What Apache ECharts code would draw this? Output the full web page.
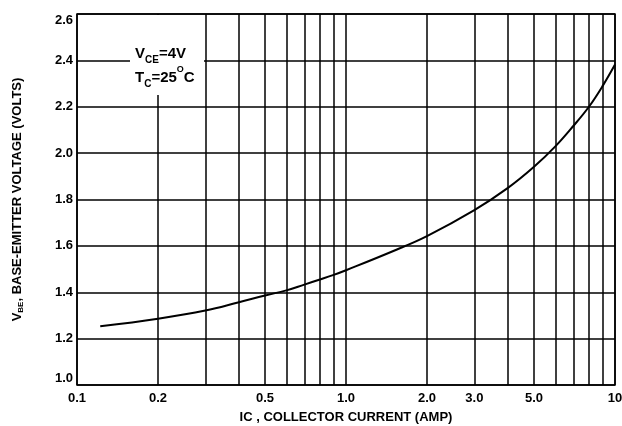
<!DOCTYPE html>
<html>
<head>
<meta charset="utf-8">
<script src="https://cdn.jsdelivr.net/npm/echarts@6/dist/echarts.min.js"></script>
<style>html,body{margin:0;padding:0;background:#fff;}#c{width:622px;height:426px;}</style>
</head>
<body>
<div id="c"></div>
<script>
// Collector current (A)
var currentA = [0.122, 0.2, 0.3, 0.4, 0.5, 0.6, 0.7, 0.8, 0.9, 1.0, 1.5, 2.0, 3.0, 4.0, 5.0, 6.0, 7.0, 8.0, 9.0, 10.0];
// Base-emitter voltage (V)
var vbe = [1.253, 1.286, 1.321, 1.357, 1.386, 1.408, 1.433, 1.455, 1.475, 1.495, 1.578, 1.642, 1.754, 1.850, 1.941, 2.029, 2.117, 2.200, 2.290, 2.382];
// Vertical grid positions
var xGridValues = [0.1, 0.2, 0.3, 0.4, 0.5, 0.6, 0.7, 0.8, 0.9, 1, 2, 3, 4, 5, 6, 7, 8, 9, 10];
// X tick labels
var xLabelValues = [0.1, 0.2, 0.5, 1, 2, 3, 5, 10];
var xLabelTexts = ['0.1', '0.2', '0.5', '1.0', '2.0', '3.0', '5.0', '10'];

var FONT = '"Liberation Sans", Arial, sans-serif';
var chart = echarts.init(document.getElementById('c'), null, {renderer: 'canvas'});

var curve = currentA.map(function (x, i) { return [x, vbe[i]]; });

chart.setOption({
  animation: false,
  backgroundColor: '#fff',
  grid: {left: 77, right: 7, top: 14, bottom: 41, show: true, borderColor: '#000', borderWidth: 1.5,
         backgroundColor: 'transparent', containLabel: false, outerBoundsMode: 'none'},
  xAxis: {
    type: 'log', logBase: 10, min: 0.1, max: 10,
    name: 'IC , COLLECTOR CURRENT (AMP)',
    nameLocation: 'middle', nameGap: 26,
    nameTextStyle: {color: '#000', fontWeight: 'bold', fontSize: 13, fontFamily: FONT},
    axisLine: {show: false},
    axisTick: {show: false, customValues: xGridValues},
    axisLabel: {
      customValues: xLabelValues,
      color: '#000', fontWeight: 'bold', fontSize: 13, fontFamily: FONT, margin: 7,
      formatter: function (v) {
        for (var i = 0; i < xLabelValues.length; i++) {
          if (Math.abs(xLabelValues[i] - v) < 1e-6 * v) return xLabelTexts[i];
        }
        return '';
      }
    },
    splitLine: {show: true, lineStyle: {color: '#000', width: 1.5}}
  },
  yAxis: {
    type: 'value', min: 1.0, max: 2.6, interval: 0.2,
    name: '{v|V}{s|BE}{v|, BASE-EMITTER VOLTAGE (VOLTS)}',
    nameLocation: 'middle', nameGap: 52, nameRotate: 90,
    nameTextStyle: {
      color: '#000', fontWeight: 'bold', fontSize: 13, fontFamily: FONT,
      rich: {
        v: {color: '#000', fontWeight: 'bold', fontSize: 13, fontFamily: FONT, lineHeight: 16},
        s: {color: '#000', fontWeight: 'bold', fontSize: 8, fontFamily: FONT, verticalAlign: 'bottom', lineHeight: 16}
      }
    },
    axisLine: {show: false},
    axisTick: {show: false},
    axisLabel: {
      color: '#000', fontWeight: 'bold', fontSize: 13, fontFamily: FONT, margin: 4,
      verticalAlignMinLabel: 'bottom', verticalAlignMaxLabel: 'top',
      formatter: function (v) { return v.toFixed(1); }
    },
    splitLine: {show: true, lineStyle: {color: '#000', width: 1.5}}
  },
  graphic: [
    {type: 'rect', left: 130, top: 15, shape: {width: 74, height: 80}, style: {fill: '#fff'}, z: 10},
    {
      type: 'text', left: 135, top: 46, z: 11,
      style: {
        text: '{a|V}{b|CE}{a|=4V}\n{a|T}{b|C}{a|=25}{c|O}{a|C}',
        rich: {
          a: {fontSize: 15, fontWeight: 'bold', fontFamily: FONT, fill: '#000', lineHeight: 24},
          b: {fontSize: 10, fontWeight: 'bold', fontFamily: FONT, fill: '#000', verticalAlign: 'bottom', lineHeight: 19},
          c: {fontSize: 9, fontWeight: 'bold', fontFamily: FONT, fill: '#000', verticalAlign: 'top', lineHeight: 22}
        }
      }
    }
  ],
  series: [{
    type: 'line', data: curve, smooth: 0.4, showSymbol: false, symbol: 'none',
    lineStyle: {color: '#000', width: 2}, z: 5
  }]
});
</script>
</body>
</html>
